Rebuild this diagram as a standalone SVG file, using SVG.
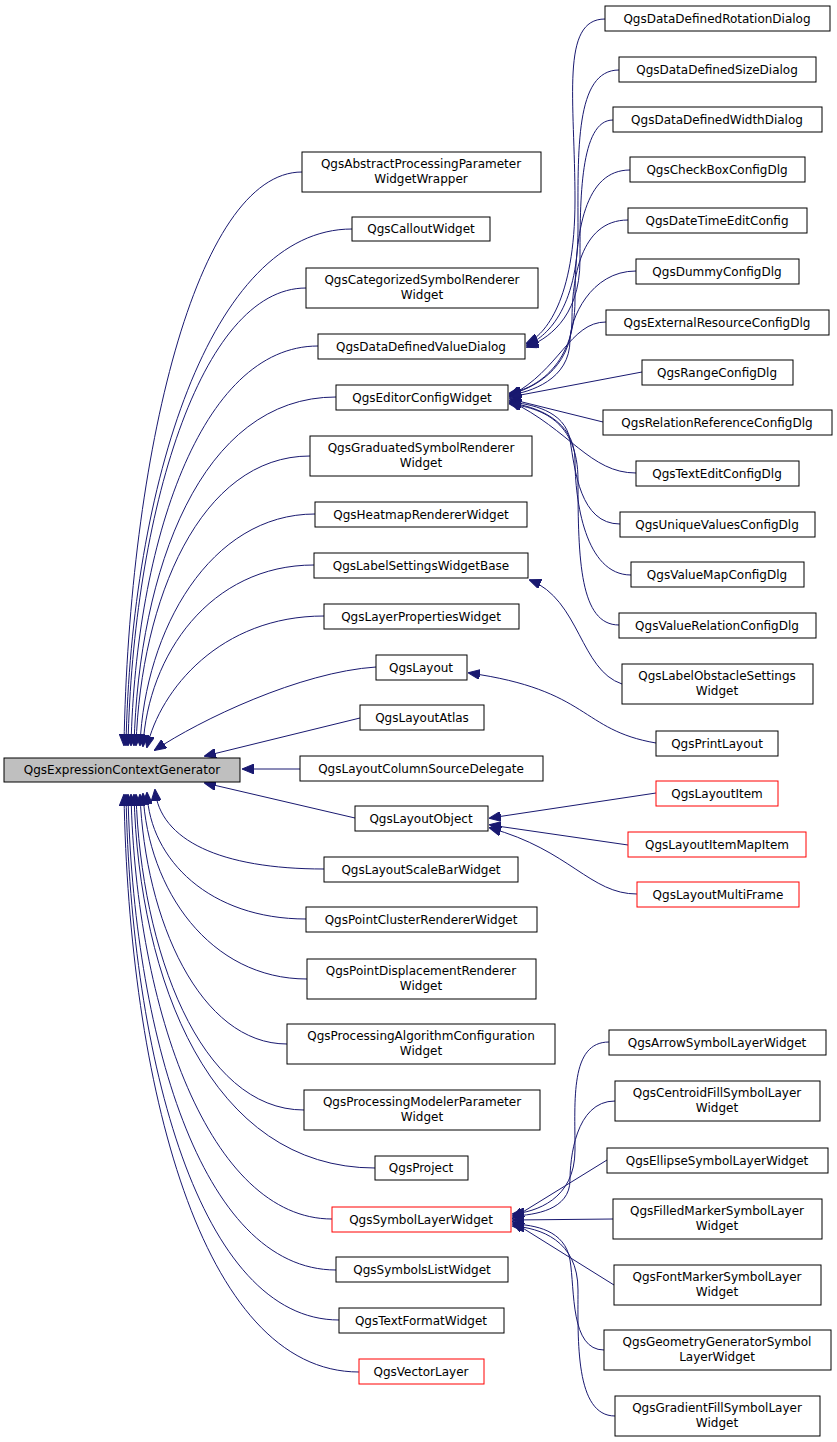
<svg xmlns="http://www.w3.org/2000/svg" width="837" height="1442" viewBox="0 0 837 1442">
<style>
.n rect{fill:#fff;stroke:#000;stroke-width:1}
.r rect{stroke:#f00}
.g rect{fill:#bfbfbf}
text{font-family:"DejaVu Sans",sans-serif;font-size:12px;text-anchor:middle;fill:#000}
.e path{fill:none;stroke:#191970;stroke-width:1;marker-end:url(#a)}
</style>
<defs><marker id="a" markerWidth="12" markerHeight="10" refX="11" refY="5" orient="auto" markerUnits="userSpaceOnUse"><path d="M0,0 L12,5 L0,10 Z" fill="#191970" stroke="#191970"/></marker></defs>
<rect width="837" height="1442" fill="#fff"/>
<g class="e">
<path d="M302,172 C196,172 129,458 124,745"/>
<path d="M352,229 C210,229 131,487 126,745"/>
<path d="M306,288 C200,288 133,516 128,745"/>
<path d="M318,346 C200,346 136,545 131,745"/>
<path d="M336,397 C200,397 139,571 134,745"/>
<path d="M310,456 C200,456 141,600 136,745"/>
<path d="M315,514 C210,514 145,630 140,745"/>
<path d="M314,565 C210,565 148,655 143,746"/>
<path d="M324,616 C220,616 160,690 147,747"/>
<path d="M376,667 C300,672 200,720 155,750"/>
<path d="M360,718 L205,756"/>
<path d="M300,769 L243,769"/>
<path d="M355,818 L205,783"/>
<path d="M324,869 C220,869 160,840 155,790"/>
<path d="M306,919 C210,919 150,860 147,793"/>
<path d="M307,979 C210,979 148,890 143,794"/>
<path d="M287,1044 C200,1044 145,920 140,795"/>
<path d="M304,1110 C200,1110 141,950 136,795"/>
<path d="M375,1168 C210,1168 139,980 134,795"/>
<path d="M332,1219 C210,1219 136,1010 131,795"/>
<path d="M336,1270 C200,1270 133,1030 128,795"/>
<path d="M339,1320 C200,1320 131,1060 126,795"/>
<path d="M359,1372 C200,1372 129,1080 124,795"/>
<path d="M605,19 C560,19 575,100 575,200 C575,300 545,335 527,343"/>
<path d="M619,70 C575,70 578,150 578,230 C578,310 545,338 527,345"/>
<path d="M613,120 C580,120 580,200 580,260 C580,320 545,340 527,347"/>
<path d="M630,170 C585,170 575,230 575,300 C575,370 530,390 510,393"/>
<path d="M628,220 C580,220 572,280 572,320 C572,370 530,390 510,394"/>
<path d="M636,271 C590,271 570,320 570,340 C570,380 530,392 510,395"/>
<path d="M606,322 C570,322 560,370 510,396"/>
<path d="M642,372 L510,397"/>
<path d="M603,422 L510,399"/>
<path d="M636,473 C590,473 570,430 510,401"/>
<path d="M620,524 C580,524 575,470 570,440 C565,410 530,404 510,402"/>
<path d="M631,575 C585,575 575,500 575,460 C575,420 535,406 510,403"/>
<path d="M619,625 C580,625 578,560 578,480 C578,420 540,408 510,404"/>
<path d="M622,684 C580,670 580,600 530,580"/>
<path d="M656,743 C580,730 590,690 469,673"/>
<path d="M656,793 L490,818"/>
<path d="M628,845 L490,825"/>
<path d="M637,894 C590,894 570,850 490,828"/>
<path d="M609,1042 C570,1042 575,1100 575,1150 C575,1200 535,1212 513,1214"/>
<path d="M615,1101 C575,1101 570,1160 570,1180 C570,1210 535,1215 513,1216"/>
<path d="M607,1160 L513,1218"/>
<path d="M613,1219 L513,1220"/>
<path d="M614,1285 L513,1222"/>
<path d="M604,1350 C570,1350 575,1290 570,1260 C565,1230 535,1225 513,1224"/>
<path d="M615,1416 C575,1416 578,1340 578,1290 C578,1240 540,1228 513,1226"/>
</g>
<g id="root" class="n g"><rect x="4" y="758" width="236" height="24"/><text x="122" y="774">QgsExpressionContextGenerator</text></g>
<g id="n1" class="n"><rect x="302" y="152" width="239" height="40"/><text x="421" y="168">QgsAbstractProcessingParameter</text><text x="421" y="183">WidgetWrapper</text></g>
<g id="n2" class="n"><rect x="352" y="217" width="138" height="24"/><text x="421" y="233">QgsCalloutWidget</text></g>
<g id="n3" class="n"><rect x="306" y="268" width="232" height="40"/><text x="422" y="284">QgsCategorizedSymbolRenderer</text><text x="422" y="299">Widget</text></g>
<g id="n4" class="n"><rect x="318" y="334" width="207" height="25"/><text x="421" y="351">QgsDataDefinedValueDialog</text></g>
<g id="n5" class="n"><rect x="336" y="385" width="172" height="25"/><text x="422" y="402">QgsEditorConfigWidget</text></g>
<g id="n6" class="n"><rect x="310" y="436" width="222" height="40"/><text x="421" y="452">QgsGraduatedSymbolRenderer</text><text x="421" y="467">Widget</text></g>
<g id="n7" class="n"><rect x="315" y="502" width="212" height="25"/><text x="421" y="519">QgsHeatmapRendererWidget</text></g>
<g id="n8" class="n"><rect x="314" y="553" width="214" height="25"/><text x="421" y="570">QgsLabelSettingsWidgetBase</text></g>
<g id="n9" class="n"><rect x="324" y="604" width="195" height="25"/><text x="421" y="621">QgsLayerPropertiesWidget</text></g>
<g id="n10" class="n"><rect x="376" y="655" width="91" height="25"/><text x="421" y="672">QgsLayout</text></g>
<g id="n11" class="n"><rect x="360" y="705" width="124" height="25"/><text x="422" y="722">QgsLayoutAtlas</text></g>
<g id="n12" class="n"><rect x="300" y="756" width="243" height="25"/><text x="421" y="773">QgsLayoutColumnSourceDelegate</text></g>
<g id="n13" class="n"><rect x="355" y="806" width="133" height="25"/><text x="421" y="823">QgsLayoutObject</text></g>
<g id="n14" class="n"><rect x="324" y="857" width="194" height="25"/><text x="421" y="874">QgsLayoutScaleBarWidget</text></g>
<g id="n15" class="n"><rect x="306" y="907" width="231" height="25"/><text x="421" y="924">QgsPointClusterRendererWidget</text></g>
<g id="n16" class="n"><rect x="307" y="959" width="229" height="40"/><text x="421" y="975">QgsPointDisplacementRenderer</text><text x="421" y="990">Widget</text></g>
<g id="n17" class="n"><rect x="287" y="1024" width="268" height="40"/><text x="421" y="1040">QgsProcessingAlgorithmConfiguration</text><text x="421" y="1055">Widget</text></g>
<g id="n18" class="n"><rect x="304" y="1090" width="236" height="40"/><text x="422" y="1106">QgsProcessingModelerParameter</text><text x="422" y="1121">Widget</text></g>
<g id="n19" class="n"><rect x="375" y="1156" width="93" height="24"/><text x="421" y="1172">QgsProject</text></g>
<g id="n20" class="n r"><rect x="332" y="1207" width="179" height="25"/><text x="421" y="1224">QgsSymbolLayerWidget</text></g>
<g id="n21" class="n"><rect x="336" y="1257" width="172" height="25"/><text x="422" y="1274">QgsSymbolsListWidget</text></g>
<g id="n22" class="n"><rect x="339" y="1308" width="165" height="25"/><text x="421" y="1325">QgsTextFormatWidget</text></g>
<g id="n23" class="n r"><rect x="359" y="1359" width="125" height="25"/><text x="421" y="1376">QgsVectorLayer</text></g>
<g id="m1" class="n"><rect x="605" y="6" width="225" height="25"/><text x="717" y="23">QgsDataDefinedRotationDialog</text></g>
<g id="m2" class="n"><rect x="619" y="57" width="197" height="25"/><text x="717" y="74">QgsDataDefinedSizeDialog</text></g>
<g id="m3" class="n"><rect x="613" y="107" width="209" height="25"/><text x="717" y="124">QgsDataDefinedWidthDialog</text></g>
<g id="m4" class="n"><rect x="630" y="157" width="175" height="25"/><text x="717" y="174">QgsCheckBoxConfigDlg</text></g>
<g id="m5" class="n"><rect x="628" y="208" width="179" height="25"/><text x="717" y="225">QgsDateTimeEditConfig</text></g>
<g id="m6" class="n"><rect x="636" y="259" width="163" height="25"/><text x="717" y="276">QgsDummyConfigDlg</text></g>
<g id="m7" class="n"><rect x="606" y="310" width="223" height="25"/><text x="717" y="327">QgsExternalResourceConfigDlg</text></g>
<g id="m8" class="n"><rect x="642" y="360" width="151" height="25"/><text x="717" y="377">QgsRangeConfigDlg</text></g>
<g id="m9" class="n"><rect x="603" y="410" width="229" height="25"/><text x="717" y="427">QgsRelationReferenceConfigDlg</text></g>
<g id="m10" class="n"><rect x="636" y="461" width="163" height="25"/><text x="717" y="478">QgsTextEditConfigDlg</text></g>
<g id="m11" class="n"><rect x="620" y="512" width="195" height="25"/><text x="717" y="529">QgsUniqueValuesConfigDlg</text></g>
<g id="m12" class="n"><rect x="631" y="562" width="173" height="25"/><text x="717" y="579">QgsValueMapConfigDlg</text></g>
<g id="m13" class="n"><rect x="619" y="613" width="197" height="25"/><text x="717" y="630">QgsValueRelationConfigDlg</text></g>
<g id="m14" class="n"><rect x="622" y="664" width="191" height="40"/><text x="717" y="680">QgsLabelObstacleSettings</text><text x="717" y="695">Widget</text></g>
<g id="m15" class="n"><rect x="656" y="731" width="122" height="25"/><text x="717" y="748">QgsPrintLayout</text></g>
<g id="m16" class="n r"><rect x="656" y="781" width="122" height="25"/><text x="717" y="798">QgsLayoutItem</text></g>
<g id="m17" class="n r"><rect x="628" y="832" width="178" height="25"/><text x="717" y="849">QgsLayoutItemMapItem</text></g>
<g id="m18" class="n r"><rect x="637" y="882" width="162" height="25"/><text x="718" y="899">QgsLayoutMultiFrame</text></g>
<g id="m19" class="n"><rect x="609" y="1030" width="217" height="25"/><text x="717" y="1047">QgsArrowSymbolLayerWidget</text></g>
<g id="m20" class="n"><rect x="615" y="1081" width="205" height="40"/><text x="717" y="1097">QgsCentroidFillSymbolLayer</text><text x="717" y="1112">Widget</text></g>
<g id="m21" class="n"><rect x="607" y="1148" width="221" height="25"/><text x="717" y="1165">QgsEllipseSymbolLayerWidget</text></g>
<g id="m22" class="n"><rect x="613" y="1199" width="209" height="40"/><text x="717" y="1215">QgsFilledMarkerSymbolLayer</text><text x="717" y="1230">Widget</text></g>
<g id="m23" class="n"><rect x="614" y="1265" width="207" height="40"/><text x="717" y="1281">QgsFontMarkerSymbolLayer</text><text x="717" y="1296">Widget</text></g>
<g id="m24" class="n"><rect x="604" y="1330" width="227" height="40"/><text x="717" y="1346">QgsGeometryGeneratorSymbol</text><text x="717" y="1361">LayerWidget</text></g>
<g id="m25" class="n"><rect x="615" y="1396" width="205" height="40"/><text x="717" y="1412">QgsGradientFillSymbolLayer</text><text x="717" y="1427">Widget</text></g>
</svg>
